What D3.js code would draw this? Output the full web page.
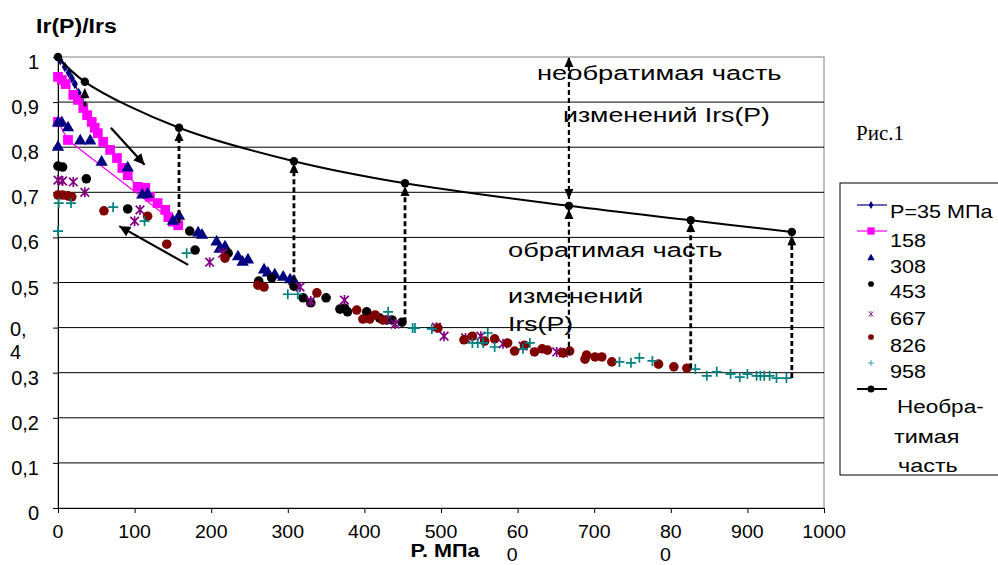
<!DOCTYPE html>
<html>
<head>
<meta charset="utf-8">
<script src="https://cdn.jsdelivr.net/npm/d3@7"></script>
<style>
  body { margin: 0; background: #fff; }
  svg { display: block; font-family: "Liberation Sans", Arial, sans-serif; }
</style>
</head>
<body>
<div id="chart"></div>
<script>
'use strict';

//tick labels, Excel wrapped 600, 800 and 0,4 on two lines
var xTicks = [0, 100, 200, 300, 400, 500, 600, 700, 800, 900, 1000];
var xTickText = [['0'], ['100'], ['200'], ['300'], ['400'], ['500'], ['60', '0'], ['700'], ['80', '0'], ['900'], ['1000']];
var yTicks = [0, 0.1, 0.2, 0.3, 0.4, 0.5, 0.6, 0.7, 0.8, 0.9, 1];
var yTickText = [['0'], ['0,1'], ['0,2'], ['0,3'], ['0,', '4'], ['0,5'], ['0,6'], ['0,7'], ['0,8'], ['0,9'], ['1']];

//series: [P (MPa), Ir(P)/Irs]
var s35 = [[1, 0.998], [3, 0.993], [9, 0.978], [14, 0.965], [18, 0.953], [22, 0.94], [27, 0.92], [30, 0.905]];
var s158 = [[0, 0.956], [5, 0.949], [10, 0.94], [20, 0.916], [26, 0.905], [33, 0.887], [38, 0.871], [44, 0.856],
    [48, 0.843], [52, 0.831], [59, 0.812], [68, 0.794], [77, 0.776], [84, 0.754], [91, 0.738], [104, 0.712],
    [114, 0.71], [120, 0.69], [130, 0.676], [140, 0.661], [144, 0.645], [150, 0.635], [157, 0.627],
    [13, 0.816], [0, 0.856]];
var s308 = [[0, 0.854], [5, 0.854], [0, 0.8], [13, 0.843], [29, 0.814], [42, 0.814], [57, 0.767], [91, 0.754],
    [110, 0.694], [117, 0.696], [150, 0.636], [158, 0.647], [183, 0.61], [188, 0.605], [207, 0.59], [211, 0.574],
    [218, 0.579], [235, 0.557], [241, 0.545], [248, 0.55], [269, 0.528], [274, 0.521], [283, 0.517],
    [294, 0.512], [303, 0.506], [308, 0.503]];
var s453 = [[0, 0.758], [6, 0.756], [37, 0.73], [91, 0.663], [172, 0.614], [179, 0.572], [222, 0.565],
    [262, 0.503], [279, 0.51], [308, 0.492], [320, 0.466], [330, 0.455], [350, 0.466], [368, 0.441],
    [374, 0.443], [378, 0.435], [403, 0.435], [420, 0.421], [429, 0.417], [436, 0.417], [449, 0.412]];
var s667 = [[0, 0.727], [6, 0.725], [20, 0.723], [35, 0.7], [107, 0.661], [100, 0.636], [198, 0.545],
    [215, 0.565], [316, 0.49], [330, 0.459], [374, 0.461], [429, 0.417], [440, 0.408], [494, 0.401],
    [504, 0.381], [532, 0.377], [552, 0.381], [581, 0.364], [607, 0.359], [651, 0.346], [660, 0.344]];
var s826 = [[0, 0.694], [6, 0.694], [13, 0.692], [18, 0.69], [60, 0.659], [117, 0.647], [142, 0.585],
    [218, 0.554], [261, 0.494], [269, 0.49], [338, 0.477], [390, 0.439], [398, 0.419], [407, 0.419],
    [414, 0.428], [424, 0.417], [496, 0.399], [530, 0.373], [541, 0.381], [557, 0.37], [570, 0.375],
    [587, 0.366], [596, 0.348], [609, 0.361], [622, 0.346], [632, 0.353], [639, 0.35], [659, 0.344],
    [668, 0.348], [688, 0.33], [690, 0.339], [701, 0.335], [710, 0.335], [723, 0.324], [784, 0.319],
    [804, 0.313], [821, 0.31]];
var s958 = [[0, 0.614], [1, 0.676], [17, 0.676], [72, 0.667], [113, 0.636], [168, 0.565], [300, 0.474],
    [313, 0.474], [431, 0.435], [463, 0.399], [466, 0.399], [488, 0.397], [541, 0.366], [548, 0.366],
    [555, 0.366], [561, 0.388], [570, 0.357], [607, 0.353], [616, 0.366], [733, 0.324], [748, 0.322],
    [759, 0.333], [776, 0.326], [832, 0.308], [847, 0.293], [860, 0.302], [878, 0.297], [890, 0.29],
    [900, 0.297], [912, 0.293], [917, 0.293], [922, 0.293], [929, 0.293], [938, 0.288], [951, 0.288]];

//irreversible part curve
var irrevP = [0, 35, 158, 308, 453, 667, 826, 958];
var irrevY = [1.0, 0.945, 0.843, 0.769, 0.72, 0.67, 0.638, 0.612];

//dashed arrows from the data up to the curve
var dropP = [35, 158, 308, 453, 826, 958];
var dropTop = [0.931, 0.836, 0.765, 0.714, 0.634, 0.605];
var dropBottom = [0.89, 0.632, 0.505, 0.412, 0.31, 0.288];

//the 667 line: double arrow to the top and arrow to the curve
var mid667 = { p: 667, top: 1.0, curveDown: 0.685, curveUp: 0.663, bottom: 0.34 };

//loading / unloading arrows [P, y]
var arrowFrom = [[69, 0.843], [170, 0.539]];
var arrowTo = [[113, 0.761], [80, 0.625]];

var legendLabels = ['P=35 МПа', '158', '308', '453', '667', '826', '958'];

var W = 998, H = 565;
var svg = d3.select('#chart').append('svg').attr('width', W).attr('height', H);

var x = d3.scaleLinear().domain([0, 1000]).range([58, 824]);
var y = d3.scaleLinear().domain([0, 1]).range([508, 57]);

var asteriskPath = 'M-4.3,-4.3L4.3,4.3M-4.3,4.3L4.3,-4.3M0,-5L0,5';
var plusPath = 'M-5,0H5M0,-5V5';

function shapePath(shape, k) {
    if (shape === 'diamond') return d3.symbol(d3.symbolDiamond, 32 * k * k)();
    if (shape === 'square') return d3.symbol(d3.symbolSquare, 95 * k * k)();
    if (shape === 'triangle') return d3.symbol(d3.symbolTriangle, 66 * k * k)();
    if (shape === 'circle') return d3.symbol(d3.symbolCircle, 72 * k * k)();
    if (shape === 'asterisk') return asteriskPath;
    if (shape === 'plus') return plusPath;
}

var series = [
    { data: s35, color: '#000080', shape: 'diamond', line: true },
    { data: s158, color: '#ff00ff', shape: 'square', line: true },
    { data: s308, color: '#000080', shape: 'triangle' },
    { data: s453, color: '#000000', shape: 'circle' },
    { data: s667, color: '#800080', shape: 'asterisk', stroke: true },
    { data: s826, color: '#800000', shape: 'circle' },
    { data: s958, color: '#008080', shape: 'plus', stroke: true }
];

function stretchText(parent, str, px, py, size, sx, opt) {
    opt = opt || {};
    return parent.append('text')
        .attr('transform', 'translate(' + px + ',' + py + ') scale(' + sx + ',1)')
        .attr('font-size', size)
        .attr('font-weight', opt.bold ? 'bold' : null)
        .attr('font-family', opt.family || null)
        .attr('text-anchor', opt.anchor || 'start')
        .attr('fill', '#000')
        .text(str);
}

//plot area
svg.append('rect')
    .attr('x', x(0)).attr('y', y(1))
    .attr('width', x(1000) - x(0)).attr('height', y(0) - y(1))
    .attr('fill', '#fff').attr('stroke', '#808080');

//gridlines
svg.append('g').selectAll('line')
    .data(yTicks.filter(function (d) { return d > 0 && d < 1; }))
    .join('line')
    .attr('x1', x(0)).attr('x2', x(1000))
    .attr('y1', function (d) { return y(d); }).attr('y2', function (d) { return y(d); })
    .attr('stroke', '#000').attr('stroke-width', 1);

//axes (lines and ticks only, labels drawn below)
var gx = svg.append('g').attr('transform', 'translate(0,' + y(0) + ')')
    .call(d3.axisBottom(x).tickValues(xTicks).tickSize(5).tickSizeOuter(0).tickFormat(''));
var gy = svg.append('g').attr('transform', 'translate(' + x(0) + ',0)')
    .call(d3.axisLeft(y).tickValues(yTicks).tickSize(5).tickSizeOuter(0).tickFormat(''));
gx.select('.domain').attr('stroke', '#000');
gy.select('.domain').attr('stroke', '#000');

//x tick labels
xTicks.forEach(function (t, i) {
    var lines = xTickText[i];
    if (lines.length === 1) {
        stretchText(svg, lines[0], x(t), 538, 19, 1.03, { anchor: 'middle' });
    } else {
        var w = lines[0].length * 0.556 * 19 * 1.03;
        lines.forEach(function (s, j) {
            stretchText(svg, s, x(t) - w / 2, 538 + j * 23, 19, 1.03);
        });
    }
});

//y tick labels
yTicks.forEach(function (t, i) {
    var lines = yTickText[i];
    if (lines.length === 1) {
        stretchText(svg, lines[0], 39, y(t) + 12, 20, 1, { anchor: 'end' });
    } else {
        lines.forEach(function (s, j) {
            stretchText(svg, s, 10, y(t) + 8 + j * 23, 20, 1);
        });
    }
});

//series
var lineGen = d3.line().x(function (d) { return x(d[0]); }).y(function (d) { return y(d[1]); });
series.forEach(function (s) {
    if (s.line) {
        svg.append('path').datum(s.data).attr('d', lineGen)
            .attr('fill', 'none').attr('stroke', s.color).attr('stroke-width', 1.2);
    }
    svg.append('g').selectAll('path')
        .data(s.data)
        .join('path')
        .attr('transform', function (d) { return 'translate(' + x(d[0]) + ',' + y(d[1]) + ')'; })
        .attr('d', shapePath(s.shape, 1))
        .attr('fill', s.stroke ? 'none' : s.color)
        .attr('stroke', s.stroke ? s.color : 'none')
        .attr('stroke-width', s.stroke ? 1.7 : 0);
});

//irreversible part curve
var irrev = irrevP.map(function (p, i) { return [p, irrevY[i]]; });
svg.append('path').datum(irrev)
    .attr('d', d3.line().curve(d3.curveCatmullRom.alpha(0.5))
        .x(function (d) { return x(d[0]); }).y(function (d) { return y(d[1]); }))
    .attr('fill', 'none').attr('stroke', '#000').attr('stroke-width', 2);
svg.append('g').selectAll('circle').data(irrev).join('circle')
    .attr('cx', function (d) { return x(d[0]); }).attr('cy', function (d) { return y(d[1]); })
    .attr('r', 4.2).attr('fill', '#000');

//dashed arrows
function dashed(p, y1, y2, width) {
    svg.append('line')
        .attr('x1', x(p)).attr('x2', x(p)).attr('y1', y(y1)).attr('y2', y(y2))
        .attr('stroke', '#000').attr('stroke-width', width).attr('stroke-dasharray', '5,3');
}
function head(p, tipY, up) {
    var px = x(p), py = y(tipY), d = up ? 1 : -1;
    svg.append('path')
        .attr('d', 'M' + px + ',' + py + 'L' + (px - 4.5) + ',' + (py + d * 10) + 'L' + (px + 4.5) + ',' + (py + d * 10) + 'Z')
        .attr('fill', '#000');
}
dropP.forEach(function (p, i) {
    dashed(p, dropBottom[i], dropTop[i] - 0.01, 2.8);
    head(p, dropTop[i], true);
});
dashed(mid667.p, mid667.curveDown, mid667.top, 2.2);
head(mid667.p, mid667.top, true);
head(mid667.p, mid667.curveDown, false);
dashed(mid667.p, mid667.bottom, mid667.curveUp, 2.2);
head(mid667.p, mid667.curveUp, true);

//loading / unloading arrows
svg.append('defs').append('marker')
    .attr('id', 'arr').attr('viewBox', '0 0 10 10').attr('refX', 10).attr('refY', 5)
    .attr('markerWidth', 5).attr('markerHeight', 5).attr('markerUnits', 'strokeWidth')
    .attr('orient', 'auto')
    .append('path').attr('d', 'M0,0L10,5L0,10Z').attr('fill', '#000');
arrowFrom.forEach(function (a, i) {
    svg.append('line')
        .attr('x1', x(a[0])).attr('y1', y(a[1]))
        .attr('x2', x(arrowTo[i][0])).attr('y2', y(arrowTo[i][1]))
        .attr('stroke', '#000').attr('stroke-width', 2.2).attr('marker-end', 'url(#arr)');
});

//annotations
stretchText(svg, 'необратимая часть', 537, 80, 21, 1.3);
stretchText(svg, 'изменений Irs(P)', 563, 122, 21, 1.27);
stretchText(svg, 'обратимая часть', 508, 257, 21, 1.3);
stretchText(svg, 'изменений', 508, 303, 21, 1.28);
stretchText(svg, 'Irs(P)', 508, 331, 21, 1.27);
stretchText(svg, 'Рис.1', 856, 140, 20, 1.05, { family: '"Liberation Serif", "Times New Roman", serif' });

//axis titles
stretchText(svg, 'Ir(P)/Irs', 36, 33, 21, 1.1, { bold: true });
stretchText(svg, 'P. МПа', 445, 557, 18, 1.2, { bold: true, anchor: 'middle' });

//legend
var lg = svg.append('g');
lg.append('rect').attr('x', 840).attr('y', 183).attr('width', 170).attr('height', 292)
    .attr('fill', '#fff').attr('stroke', '#000');
var legTextY = [218, 247, 273, 298, 325, 352, 378];
var legMarkY = [205, 231, 258, 284, 314, 337, 363];
series.forEach(function (s, i) {
    if (s.line) {
        lg.append('line').attr('x1', 857).attr('x2', 887).attr('y1', legMarkY[i]).attr('y2', legMarkY[i])
            .attr('stroke', s.color).attr('stroke-width', 1.2);
    }
    lg.append('path')
        .attr('d', shapePath(s.shape, s.line ? 0.75 : 0.6))
        .attr('fill', s.stroke ? 'none' : s.color)
        .attr('stroke', s.stroke ? s.color : 'none')
        .attr('stroke-width', s.stroke ? 1.2 : 0)
        .attr('transform', 'translate(871,' + legMarkY[i] + ')' + (s.stroke ? ' scale(0.6)' : ''));
    stretchText(lg, legendLabels[i], 890, legTextY[i], 18, 1.2);
});
lg.append('line').attr('x1', 857).attr('x2', 887).attr('y1', 389).attr('y2', 389)
    .attr('stroke', '#000').attr('stroke-width', 2);
lg.append('circle').attr('cx', 871).attr('cy', 389).attr('r', 3.5).attr('fill', '#000');
stretchText(lg, 'Необра-', 897, 413, 18, 1.25);
stretchText(lg, 'тимая', 894, 443, 18, 1.3);
stretchText(lg, 'часть', 898, 472, 18, 1.3);
</script>
</body>
</html>
